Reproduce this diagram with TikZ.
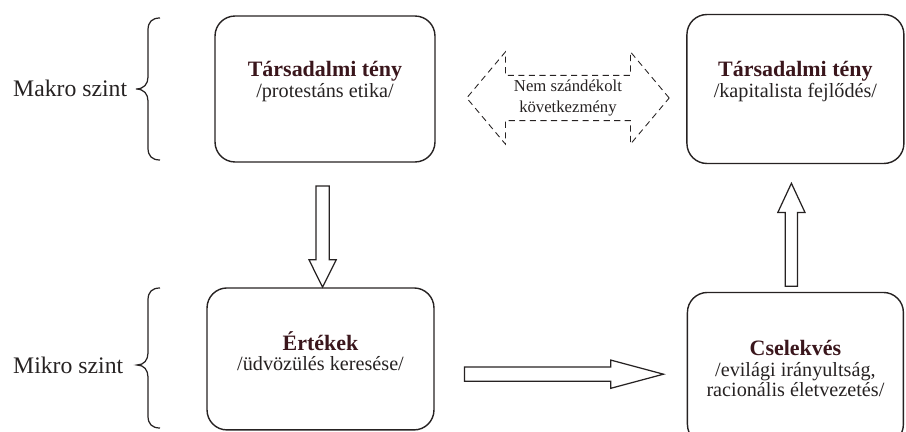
\documentclass[tikz,border=0pt]{standalone}
\usepackage{fontspec}
\setmainfont{Liberation Serif}
\usetikzlibrary{shapes.arrows, positioning, calc}
\definecolor{titlered}{RGB}{58,22,28}
\definecolor{inkgray}{RGB}{38,34,34}
\tikzstyle{block} = [draw=inkgray, line width=0.8pt, rectangle, rounded corners=0.4cm, align=center, text=inkgray, font=\fontsize{11.5}{11.6}\selectfont]
\tikzstyle{fatarrow} = [draw=inkgray, line width=0.7pt, fill=white, single arrow, single arrow head indent=0pt]
\tikzstyle{curly} = [draw=inkgray, line width=0.7pt]
\tikzstyle{level} = [anchor=west, text=inkgray, font=\fontsize{13.5}{15}\selectfont]
\newcommand{\boxhead}[1]{{\fontsize{12.5}{11.6}\selectfont\bfseries\color{titlered}#1}}

\begin{document}
\begin{tikzpicture}[x=0.02cm, y=-0.02cm]
  \clip (0,0) rectangle (906,432);
  % boxes
  \node[block, minimum width=4.4cm, minimum height=2.92cm, text depth=11pt] (tprot) at (325,89)
    {\boxhead{Társadalmi tény}\\/protestáns etika/};
  \node[block, right of=tprot, node distance=9.41cm, minimum width=4.34cm, minimum height=2.98cm, text depth=11pt] (tkap)
    {\boxhead{Társadalmi tény}\\/kapitalista fejlődés/};
  \node[block, below of=tprot, node distance=5.4cm, xshift=-0.09cm, minimum width=4.54cm, minimum height=2.84cm, text depth=9pt] (ert)
    {\boxhead{Értékek}\\/üdvözülés keresése/};
  \node[block, below of=tkap, node distance=5.59cm, minimum width=4.32cm, minimum height=3.04cm, text depth=-1pt] (cselek)
    {\boxhead{Cselekvés}\\/evilági irányultság,\\racionális életvezetés/};
  % unintended consequence
  \node[draw=inkgray, line width=0.5pt, dash pattern=on 3.5pt off 2.5pt, double arrow, double arrow head extend=0.47cm,
    double arrow tip angle=100, minimum height=4.05cm, inner xsep=0.2cm, inner ysep=0.09cm, align=center,
    text=inkgray, font=\fontsize{9.5}{11.5}\selectfont] (kovet) at ($(tprot.east)!0.5!(tkap.west)+(0.14cm,-0.18cm)$)
    {Nem szándékolt\\következmény};
  % block arrows
  \node[fatarrow, shape border rotate=270, minimum height=2.02cm, single arrow head extend=0.14cm,
    single arrow tip angle=53, inner sep=0.12cm] (down) at ($(tprot.south)!0.54!(ert.north)$) {};
  \node[fatarrow, shape border rotate=90, minimum height=2.06cm, single arrow head extend=0.15cm,
    single arrow tip angle=50, inner sep=0.11cm, xshift=-0.08cm, yshift=-0.14cm] (up) at ($(cselek.north)!0.45!(tkap.south)$) {};
  \node[fatarrow, minimum height=3.98cm, single arrow head extend=0.14cm,
    single arrow tip angle=30, inner sep=0.13cm, xshift=-0.2cm, yshift=-0.21cm] (right) at ($(ert.east)!0.5!(cselek.west)$) {};
  % levels
  \draw[curly] (160,18) .. controls (152,18) and (148,22) .. (148,30) -- (148,77)
    .. controls (148,84) and (144,89) .. (136,89) .. controls (144,89) and (148,94) .. (148,101)
    -- (148,148) .. controls (148,156) and (152,160) .. (160,160);
  \draw[curly] (160,288) .. controls (152,288) and (148,292) .. (148,300) -- (148,353)
    .. controls (148,360) and (144,365) .. (137,365) .. controls (144,365) and (148,370) .. (148,377)
    -- (148,416) .. controls (148,424) and (152,428) .. (160,428);
  \node[level] (makro) at (7,88) {Makro szint};
  \node[level] (mikro) at (7,365) {Mikro szint};
\end{tikzpicture}
\end{document}
